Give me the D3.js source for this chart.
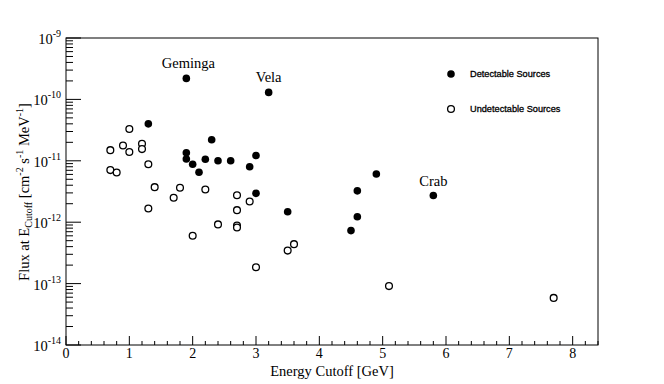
<!DOCTYPE html>
<html>
<head>
<meta charset="utf-8">
<script src="https://cdn.jsdelivr.net/npm/d3@7"></script>
<style>
  body { margin: 0; background: #fff; }
  svg { display: block; }
  text { font-family: "Liberation Serif", "Times New Roman", serif; fill: #000; }
  .legend text { font-family: "Liberation Sans", Arial, sans-serif; }
</style>
</head>
<body>
<svg width="664" height="384"></svg>
<script>
// detectable sources: energy cutoff [GeV], flux at cutoff
const detX = [1.9, 3.2, 1.3, 2.3, 1.9, 1.9, 2.0, 2.1, 2.2, 2.4, 2.6, 2.9, 3.0, 3.0, 3.5, 4.9, 4.6, 4.6, 4.5, 5.8];
const detY = [2.2e-10, 1.3e-10, 4.0e-11, 2.2e-11, 1.35e-11, 1.07e-11, 8.8e-12, 6.5e-12, 1.06e-11, 1.0e-11,
              1.0e-11, 8.0e-12, 1.22e-11, 2.95e-12, 1.48e-12, 6.1e-12, 3.24e-12, 1.23e-12, 7.3e-13, 2.72e-12];
// undetectable sources
const undX = [1.0, 0.7, 0.9, 1.0, 1.2, 1.2, 1.3, 0.7, 0.8, 1.4, 1.8, 1.7, 2.2, 1.3, 2.7, 2.9, 2.7,
              2.4, 2.7, 2.7, 2.0, 3.6, 3.5, 3.0, 5.1, 7.7];
const undY = [3.29e-11, 1.49e-11, 1.77e-11, 1.39e-11, 1.89e-11, 1.55e-11, 8.8e-12, 7.05e-12, 6.45e-12,
              3.72e-12, 3.63e-12, 2.5e-12, 3.4e-12, 1.67e-12, 2.74e-12, 2.17e-12, 1.57e-12, 9.2e-13,
              8.8e-13, 8.2e-13, 6.0e-13, 4.39e-13, 3.45e-13, 1.85e-13, 9.1e-14, 5.85e-14];
// named pulsars
const names = ["Geminga", "Vela", "Crab"];
const nameIdx = [0, 1, 19];
const yExp = [-14, -13, -12, -11, -10, -9];
const xTicks = [0, 1, 2, 3, 4, 5, 6, 7, 8];

const svg = d3.select("svg");
const L = 66, R = 598, T = 38, B = 345;

const x = d3.scaleLinear().domain([0, 8.4]).range([L, R]);
const y = d3.scaleLog().domain([1e-14, 1e-9]).range([B, T]);

// frame
svg.append("rect")
    .attr("x", L).attr("y", T)
    .attr("width", R - L).attr("height", B - T)
    .attr("fill", "none").attr("stroke", "#000").attr("stroke-width", 1);

// x ticks (inside)
const xMinor = d3.range(0, 8.41, 0.2);
svg.append("g").selectAll("line").data(xMinor).enter().append("line")
    .attr("x1", d => x(d)).attr("x2", d => x(d))
    .attr("y1", B)
    .attr("y2", d => Math.abs(d - Math.round(d)) < 1e-6 ? B - 9 : B - 4)
    .attr("stroke", "#000");

svg.append("g").selectAll("text").data(xTicks).enter().append("text")
    .attr("x", d => x(d)).attr("y", 358)
    .attr("text-anchor", "middle")
    .attr("font-size", 14)
    .text(d => d);

// y ticks (log, inside)
const yMinor = [];
yExp.slice(0, -1).forEach(e => {
  for (let k = 1; k < 10; k++) yMinor.push({v: k * Math.pow(10, e), major: k === 1});
});
yMinor.push({v: 1e-9, major: true});
svg.append("g").selectAll("line").data(yMinor).enter().append("line")
    .attr("x1", L).attr("x2", d => d.major ? L + 15 : L + 7)
    .attr("y1", d => y(d.v)).attr("y2", d => y(d.v))
    .attr("stroke", "#000");

const yl = svg.append("g").selectAll("text").data(yExp).enter().append("text")
    .attr("x", 61).attr("y", d => y(Math.pow(10, d)) + 6)
    .attr("text-anchor", "end")
    .attr("font-size", 14.5);
yl.append("tspan").text("10");
yl.append("tspan").attr("font-size", 10).attr("dy", -7).text(d => "-" + Math.abs(d));

// axis titles
svg.append("text")
    .attr("x", 332).attr("y", 376)
    .attr("text-anchor", "middle")
    .attr("font-size", 14.5)
    .text("Energy Cutoff [GeV]");

const yt = svg.append("text")
    .attr("transform", "translate(29,192) rotate(-90)")
    .attr("text-anchor", "middle")
    .attr("font-size", 14.5);
yt.append("tspan").text("Flux at E");
yt.append("tspan").attr("font-size", 10).attr("dy", 3).text("Cutoff");
yt.append("tspan").attr("dy", -3).text(" [cm");
yt.append("tspan").attr("font-size", 10).attr("dy", -6).text("-2");
yt.append("tspan").attr("dy", 6).text(" s");
yt.append("tspan").attr("font-size", 10).attr("dy", -6).text("-1");
yt.append("tspan").attr("dy", 6).text(" MeV");
yt.append("tspan").attr("font-size", 10).attr("dy", -6).text("-1");
yt.append("tspan").attr("dy", 6).text("]");

// points
svg.append("g").selectAll("circle").data(undX).enter().append("circle")
    .attr("cx", d => x(d)).attr("cy", (d, i) => y(undY[i]))
    .attr("r", 3.4)
    .attr("fill", "#fff").attr("stroke", "#000").attr("stroke-width", 1.3);

svg.append("g").selectAll("circle").data(detX).enter().append("circle")
    .attr("cx", d => x(d)).attr("cy", (d, i) => y(detY[i]))
    .attr("r", 3.8)
    .attr("fill", "#000");

// labels for named pulsars
svg.append("g").selectAll("text").data(names).enter().append("text")
    .attr("x", (d, i) => x(detX[nameIdx[i]]) + (i === 0 ? 2 : 0))
    .attr("y", (d, i) => y(detY[nameIdx[i]]) - 10)
    .attr("text-anchor", "middle")
    .attr("font-size", 14.5)
    .text(d => d);

// legend
const lg = svg.append("g").attr("class", "legend");
lg.append("circle").attr("cx", 451).attr("cy", 74).attr("r", 3.8).attr("fill", "#000");
lg.append("circle").attr("cx", 451).attr("cy", 109).attr("r", 3.4)
    .attr("fill", "#fff").attr("stroke", "#000").attr("stroke-width", 1.3);
lg.append("text").attr("x", 470).attr("y", 77).attr("font-size", 9.2)
    .attr("stroke", "#000").attr("stroke-width", 0.3).text("Detectable Sources");
lg.append("text").attr("x", 470).attr("y", 112).attr("font-size", 9.2)
    .attr("stroke", "#000").attr("stroke-width", 0.3).text("Undetectable Sources");
</script>
</body>
</html>
